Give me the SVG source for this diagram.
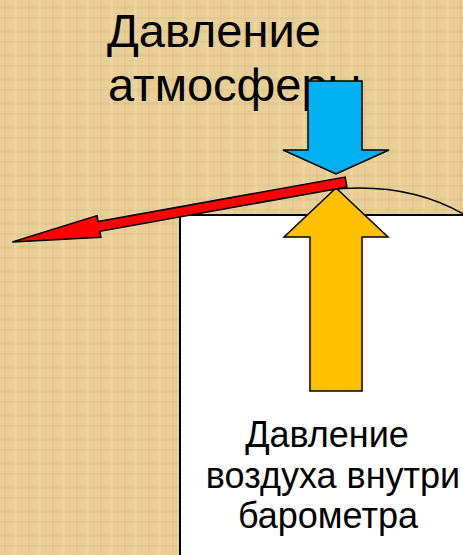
<svg xmlns="http://www.w3.org/2000/svg" width="463" height="555" viewBox="0 0 463 555">
  <defs>
    <pattern id="weave" width="24" height="24" patternUnits="userSpaceOnUse">
      <rect width="24" height="24" fill="#e8cf98"/>
      <rect x="0" y="6" width="24" height="3" fill="#dcc087" opacity="0.45"/>
      <rect x="14" y="0" width="3" height="24" fill="#f0dbab" opacity="0.5"/>
      <rect x="0" y="17" width="24" height="2" fill="#d8bb82" opacity="0.3"/>
      <rect x="4" y="0" width="2" height="24" fill="#d6b97f" opacity="0.3"/>
    </pattern>
    <style>
      .lbl { font-family: "Liberation Sans", Arial, sans-serif; fill: #000000; }
      .big { font-size: 47px; }
      .mid { font-size: 36px; text-anchor: middle; }
      .arrow { stroke: #000000; stroke-width: 1.5; stroke-linejoin: miter; }
    </style>
  </defs>

  <rect id="background" x="0" y="0" width="463" height="555" fill="url(#weave)"/>

  <g id="barometer">
    <path d="M 325 190 Q 410 180 470 218" fill="none" stroke="#000000" stroke-width="1.5"/>
    <rect x="180" y="215" width="300" height="360" fill="#ffffff" stroke="#000000" stroke-width="2"/>
  </g>

  <g id="label-atmosphere">
    <text class="lbl big" x="107" y="47">Давление</text>
    <text class="lbl big" x="108" y="101">атмосферы</text>
  </g>

  <g id="connectors">
    <polygon id="arrow-atmosphere" class="arrow" fill="#00b0f0"
      points="308,81 362,81 362,150 389,150 336,174 283,150 308,150"/>
    <polygon id="arrow-inside" class="arrow" fill="#ffc000"
      points="336,188 388,237 362,237 362,391 310,391 310,237 284,237"/>
    <polygon id="arrow-needle" class="arrow" fill="#ff0000"
      transform="translate(346,182) rotate(169.8)"
      points="0,-5 251,-5 251,-11 339,0 251,11 251,5 0,5"/>
  </g>

  <g id="label-inside">
    <text class="lbl mid" x="327" y="447">Давление</text>
    <text class="lbl mid" x="333" y="488">воздуха внутри</text>
    <text class="lbl mid" x="328" y="528">барометра</text>
  </g>
</svg>
